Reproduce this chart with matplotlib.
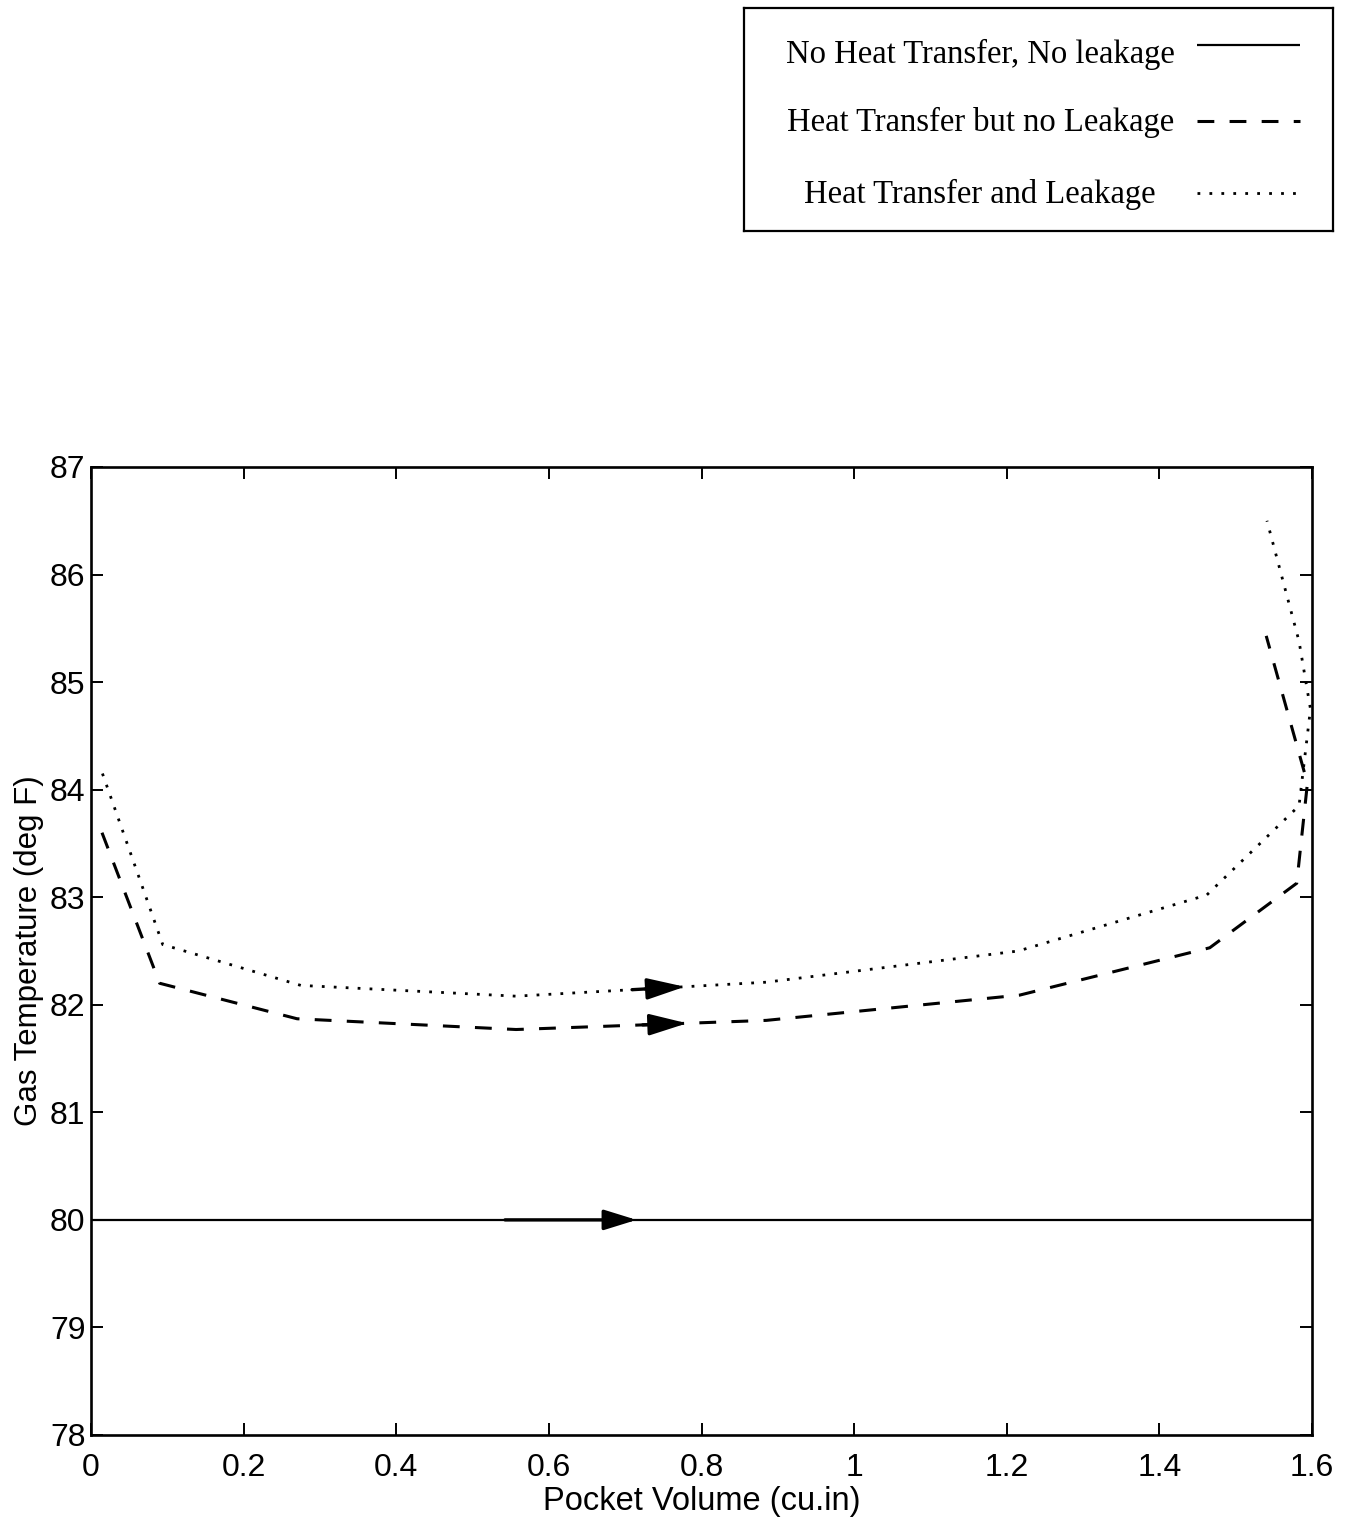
import numpy as np
import matplotlib
matplotlib.use("Agg")
import matplotlib.pyplot as plt

# Pocket volume (cu.in) and gas temperature (deg F) for the three model cases
vol_no_ht = [0.0, 1.6]
temp_no_ht = [80.0, 80.0]

vol_ht = [0.0144, 0.090, 0.270, 0.557, 0.885, 1.217, 1.466, 1.580, 1.594, 1.540]
temp_ht = [83.60, 82.20, 81.87, 81.77, 81.855, 82.09, 82.53, 83.13, 84.06, 85.43]

vol_ht_leak = [0.015, 0.094, 0.275, 0.557, 0.885, 1.215, 1.462, 1.583, 1.598, 1.583, 1.541]
temp_ht_leak = [84.15, 82.56, 82.18, 82.08, 82.21, 82.50, 83.02, 83.85, 84.75, 85.38, 86.50]

series_labels = ["No Heat Transfer, No leakage",
                 "Heat Transfer but no Leakage",
                 "Heat Transfer and Leakage"]

# flow-direction arrows: (shaft start, tip) along the volume axis
arrow_no_ht = (0.5425, 0.715)
arrow_ht = (0.723, 0.781)
arrow_ht_leak = (0.709, 0.778)

x_ticks = [0, 0.2, 0.4, 0.6, 0.8, 1.0, 1.2, 1.4, 1.6]
x_tick_labels = ["0", "0.2", "0.4", "0.6", "0.8", "1", "1.2", "1.4", "1.6"]
y_ticks = [78, 79, 80, 81, 82, 83, 84, 85, 86, 87]

W, H = 1348, 1521
fig = plt.figure(figsize=(W / 100, H / 100), dpi=100)
fig.patch.set_facecolor("white")

sans = "Liberation Sans"
serif = "Liberation Serif"

styles = [
    dict(color="black", lw=1.6, linestyle="-", solid_capstyle="butt"),
    dict(color="black", lw=2.2, linestyle=(0, (5.5, 5.0)), dash_capstyle="butt"),
    dict(color="black", lw=2.0, linestyle=(0, (1, 3.3)), dash_capstyle="butt"),
]

ax = fig.add_axes([91 / W, (H - 1435) / H, 1221 / W, 968 / H])
series = [(vol_no_ht, temp_no_ht), (vol_ht, temp_ht), (vol_ht_leak, temp_ht_leak)]
for (xs, ys), st in zip(series, styles):
    ax.plot(xs, ys, **st)


def flow_arrow(xs, ys, span, shaft_lw, head_len, head_w):
    xs = np.asarray(xs)
    ys = np.asarray(ys)
    n = int(np.argmax(xs)) + 1
    x0, x1 = span
    y0 = np.interp(x0, xs[:n], ys[:n])
    y1 = np.interp(x1, xs[:n], ys[:n])
    ax.annotate("", xy=(x1, y1), xytext=(x0, y0),
                arrowprops=dict(arrowstyle=f"-|>,head_length={head_len},head_width={head_w}",
                                mutation_scale=10, lw=shaft_lw, color="black",
                                shrinkA=0, shrinkB=0))


flow_arrow(vol_no_ht, temp_no_ht, arrow_no_ht, 2.4, 2.0, 0.62)
flow_arrow(vol_ht, temp_ht, arrow_ht, 2.4, 2.3, 0.65)
flow_arrow(vol_ht_leak, temp_ht_leak, arrow_ht_leak, 2.4, 2.3, 0.65)

ax.set_xlim(0, 1.6)
ax.set_ylim(78, 87)
ax.set_xticks(x_ticks)
ax.set_xticklabels(x_tick_labels)
ax.set_yticks(y_ticks)
ax.set_yticklabels([str(v) for v in y_ticks])
ax.tick_params(direction="in", length=8.5, width=1.4, top=True, right=True,
               labelsize=23, pad=13)
ax.tick_params(axis="y", pad=4)
for lab in ax.get_xticklabels() + ax.get_yticklabels():
    lab.set_fontfamily(sans)
for sp in ax.spines.values():
    sp.set_linewidth(1.9)

ax.set_xlabel("Pocket Volume (cu.in)", fontsize=23.5, fontfamily=sans, labelpad=2)
ax.set_ylabel("Gas Temperature (deg F)", fontsize=22.5, fontfamily=sans, labelpad=4)

# legend box: text on the left, line sample on the right
lax = fig.add_axes([744 / W, (H - 231) / H, 589 / W, 223 / H])
lax.set_xlim(0, 1)
lax.set_ylim(0, 1)
lax.set_xticks([])
lax.set_yticks([])
for sp in lax.spines.values():
    sp.set_linewidth(1.6)
text_y = [0.790, 0.488, 0.166]
line_y = [0.834, 0.493, 0.170]
for lab, ty, ly, st in zip(series_labels, text_y, line_y, styles):
    lax.text(0.401, ty, lab, ha="center", va="center", fontsize=23.5, fontfamily=serif)
    lax.plot([0.769, 0.944], [ly, ly], **st)

fig.savefig("out.png", dpi=100, facecolor="white")
